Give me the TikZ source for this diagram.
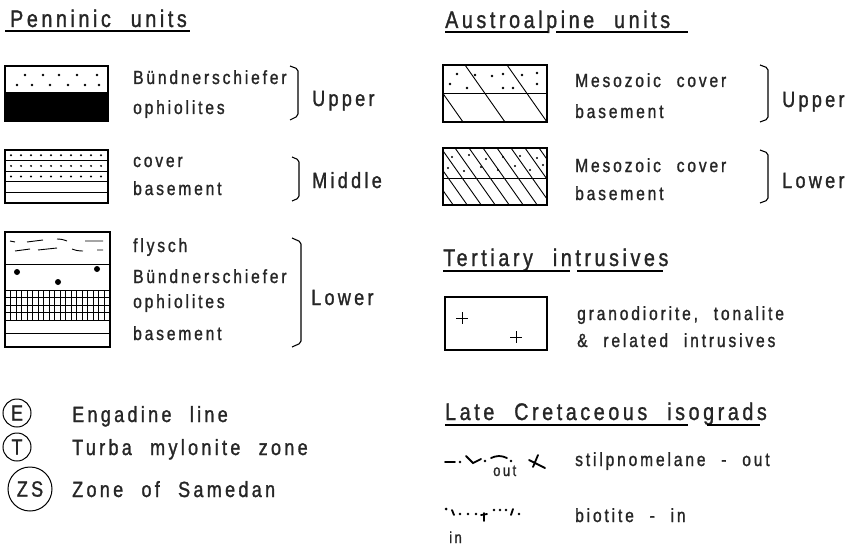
\documentclass[tikz,border=0pt]{standalone}
\usepackage{fontspec}
\setmainfont{Liberation Sans}[FakeStretch=0.82, LetterSpace=15, WordSpace=2.2, FakeBold=1.2]
\begin{document}
\begin{tikzpicture}[x=1pt,y=-1pt,
  lbl/.style={anchor=base west,inner sep=0pt,text=black!85,font=\fontsize{19}{21}\selectfont},
  ttl/.style={anchor=base west,inner sep=0pt,text=black!85,font=\fontsize{24}{26}\selectfont},
  big/.style={anchor=base west,inner sep=0pt,text=black!85,font=\fontsize{22}{24}\selectfont},
  tiny/.style={anchor=base west,inner sep=0pt,text=black!85,font=\fontsize{16}{18}\selectfont},
  ring/.style={circle,draw,line width=1pt,inner sep=0pt,text=black!85,font=\fontsize{22}{24}\selectfont},
  boxln/.style={line width=1.6pt},
  thin/.style={line width=0.9pt},
  brk/.style={line width=1.1pt,rounded corners=2pt},
  uline/.style={line width=1.3pt},
  sym/.style={line width=1.8pt,line cap=round}
]
\useasboundingbox (0,0) rectangle (850,556);
\fill[white] (0,0) rectangle (850,556);

% ---------------- Penninic units ----------------
\node[ttl] (pen) at (10,27) {Penninic units};
\draw[uline] (5,31) -- (190,31);

% Upper box
\fill (5,92) rectangle (108,121);
\draw[boxln] (5,66) rectangle (108,121);
\foreach \x in {25,43,59,77,97} \fill (\x,75) circle[radius=1.3pt];
\foreach \x in {17,32,50,68,85,99} \fill (\x,85) circle[radius=1.3pt];
\node[lbl] (pu1) at (133,84) {Bündnerschiefer};
\node[lbl] (pu2) at (133,114) {ophiolites};
\draw[brk] (290,66) -- (298,69) -- (298,116) -- (290,120);
\node[big] (pup) at (312,106) {Upper};

% Middle box
\foreach \y in {160.6,171.2,181.8,192.4} \draw[thin] (5,\y) -- (108,\y);
\foreach \y in {155.3,165.9,176.5}
  \foreach \x in {11,21,31,41,51,61,71,81,91,101} \fill (\x,\y) circle[radius=1.1pt];
\draw[boxln] (5,150) rectangle (108,203);
\node[lbl] (pm1) at (133,167) {cover};
\node[lbl] (pm2) at (133,195) {basement};
\draw[brk] (292,157) -- (299,160) -- (299,198) -- (292,201);
\node[big] (pmi) at (312,188) {Middle};

% Lower box
\begin{scope}
\clip (5,290) rectangle (110,320);
\foreach \x in {0,...,19} \draw[thin] (5+5.5*\x,290) -- (5+5.5*\x,320);
\foreach \y in {297.5,305,312.5} \draw[thin] (5,\y) -- (110,\y);
\end{scope}
\draw[thin] (5,264) -- (110,264);
\draw[thin] (5,290) -- (110,290);
\draw[thin] (5,320) -- (110,320);
\draw[thin] (5,333) -- (110,333);
\draw[thin] (10,241) -- (15,242) (27,242) -- (43,240) (57,239) to[bend left=10] (67,241) (85,241) -- (103,241);
\draw[thin] (15,251) -- (30,249) (38,250) -- (57,248) (72,249) to[bend right=10] (83,251) (97,250) -- (103,250);
\fill (17,272) circle[radius=3pt] (58,282) circle[radius=3pt] (97,269) circle[radius=3pt];
\draw[boxln] (5,232) rectangle (110,347);
\node[lbl] (pl1) at (133,252) {flysch};
\node[lbl] (pl2) at (133,283) {Bündnerschiefer};
\node[lbl] (pl3) at (133,308) {ophiolites};
\node[lbl] (pl4) at (133,340) {basement};
\draw[brk] (292,238) -- (301,242) -- (301,343) -- (292,347);
\node[big] (plo) at (311,305) {Lower};

% Circles
\node[ring,minimum size=28pt] (E) at (17,413) {E};
\node[ring,minimum size=28pt] (T) at (17,447) {T};
\node[ring,minimum size=44pt] (ZS) at (30,489) {ZS};
\node[big] (tE) at (72,422) {Engadine line};
\node[big] (tT) at (72,455) {Turba mylonite zone};
\node[big] (tZ) at (72,497) {Zone of Samedan};

% ---------------- Austroalpine units ----------------
\node[ttl] (aus) at (445,28) {Austroalpine units};
\draw[uline] (445,32) -- (548,32) (556,32) -- (688,32);

% Upper austroalpine
\begin{scope}
\clip (443,65) rectangle (547,122);
\foreach \s in {-2,...,3} \draw[thin] (465+42*\s,65) -- ++(60,85.5);
\end{scope}
\draw[thin] (443,93) -- (547,93);
\foreach \p in {(457,74),(475,75),(492,76),(503,74),(522,75),(537,73),(450,84),(467,88),(503,88),(513,88),(537,84)}
  \fill \p circle[radius=1.3pt];
\draw[boxln] (443,65) rectangle (547,122);
\node[lbl] (au1) at (575,87) {Mesozoic cover};
\node[lbl] (au2) at (575,118) {basement};
\draw[brk] (760,65) -- (768,68) -- (768,119) -- (760,122);
\node[big] (aup) at (782,107) {Upper};

% Lower austroalpine
\begin{scope}
\clip (443,148) rectangle (547,205);
\foreach \s in {-5,...,8} \draw[thin] (455+14*\s,148) -- ++(48,68);
\end{scope}
\draw[thin] (443,178) -- (547,178);
\foreach \p in {(452,157),(469,155),(486,159),(503,157),(520,156),(537,158),(448,168),(464,171),(481,167),(498,170),(515,166),(530,170),(543,165)}
  \fill \p circle[radius=1.2pt];
\draw[boxln] (443,148) rectangle (547,205);
\node[lbl] (al1) at (575,172) {Mesozoic cover};
\node[lbl] (al2) at (575,200) {basement};
\draw[brk] (760,150) -- (768,153) -- (768,200) -- (760,203);
\node[big] (alo) at (782,188) {Lower};

% ---------------- Tertiary intrusives ----------------
\node[ttl] (ter) at (443,266) {Tertiary intrusives};
\draw[uline] (443,271) -- (570,271) (577,271) -- (663,271);
\draw[boxln] (445,297) rectangle (547,350);
\draw[thin] (456,318) -- (468,318) (462,312) -- (462,324);
\draw[thin] (510,337) -- (522,337) (516,331) -- (516,343);
\node[lbl] (ti1) at (577,320) {granodiorite, tonalite};
\node[lbl] (ti2) at (577,347) {\& related intrusives};

% ---------------- Late Cretaceous isograds ----------------
\node[ttl] (lat) at (445,420) {Late Cretaceous isograds};
\draw[uline] (445,425) -- (688,425) (707,425) -- (760,425);

% stilpnomelane-out symbol
\draw[sym] (445,462) -- (455,462);
\fill (460,462) circle[radius=1.3pt];
\draw[sym] (466,456) -- (473,463) -- (481,459);
\fill (485,461) circle[radius=1.3pt] (511,461) circle[radius=1.3pt];
\draw[sym] (491,458) to[bend left=25] (507,458);
\draw[sym] (529,460) -- (545,468) (538,455) -- (533,467);
\node[tiny] (out) at (493,476) {out};
\node[lbl] (st) at (575,466) {stilpnomelane - out};

% biotite-in symbol
\fill (446,509) circle[radius=1.5pt];
\draw[sym] (452,510) -- (454,515);
\foreach \x in {460,468,476} \fill (\x,514) circle[radius=1.4pt];
\draw[sym] (484,513) -- (484,521) (481,515) -- (487,514);
\foreach \x in {494,500,506} \fill (\x,510) circle[radius=1.4pt];
\draw[sym] (513,509) -- (511,515);
\fill (519,514) circle[radius=1.4pt];
\node[tiny] (in) at (449,543) {in};
\node[lbl] (bi) at (575,522) {biotite - in};

\end{tikzpicture}
\end{document}
